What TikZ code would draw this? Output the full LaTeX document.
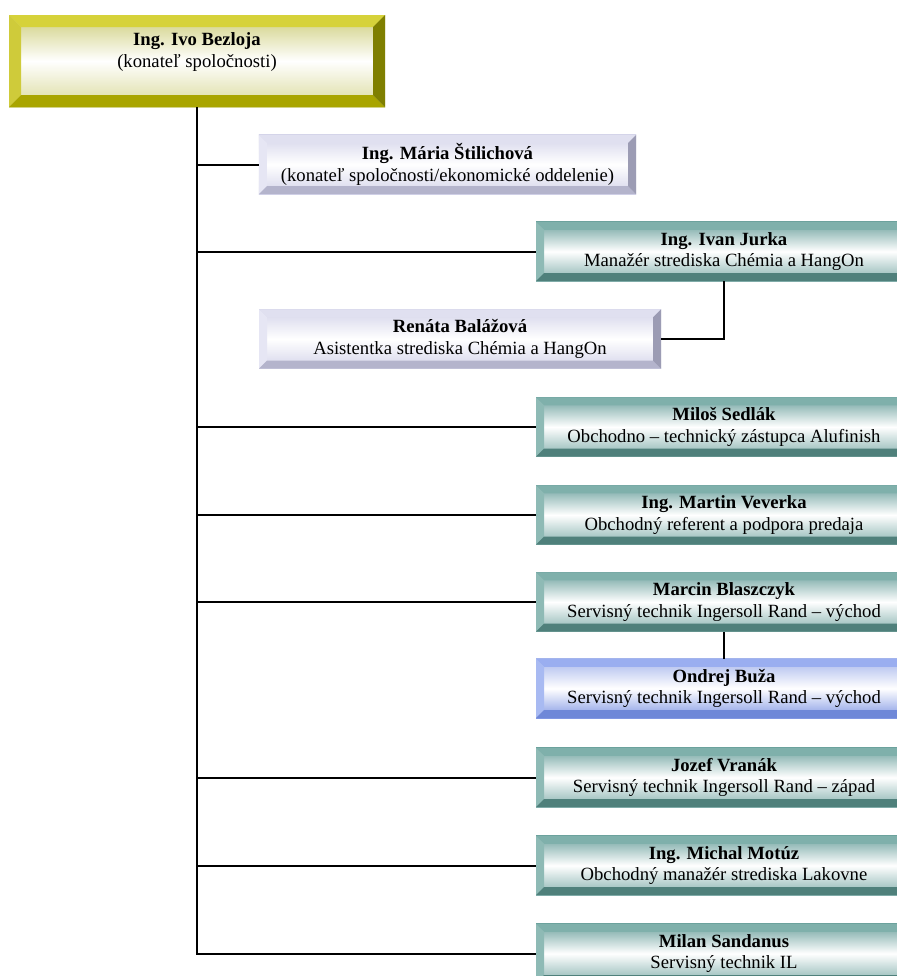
\documentclass[tikz,border=0pt]{standalone}
\usepackage{fontspec}
\setmainfont{Liberation Serif}
\usetikzlibrary{calc}

\definecolor{chieftop}{HTML}{D6D23A}
\definecolor{chiefleft}{HTML}{CFCB3A}
\definecolor{chiefbottom}{HTML}{A9A500}
\definecolor{chiefright}{HTML}{7F7F00}
\definecolor{chiefface}{HTML}{C2C25A}
\definecolor{stafftop}{HTML}{E0E0F0}
\definecolor{staffleft}{HTML}{E6E6F4}
\definecolor{staffbottom}{HTML}{B4B4CC}
\definecolor{staffright}{HTML}{9C9CB4}
\definecolor{staffface}{HTML}{D4D4EA}
\definecolor{techtop}{HTML}{7FB0AB}
\definecolor{techleft}{HTML}{8EBAB5}
\definecolor{techbottom}{HTML}{4F807B}
\definecolor{techright}{HTML}{466F6B}
\definecolor{techface}{HTML}{5E9894}
\definecolor{helptop}{HTML}{9AAEF0}
\definecolor{helpleft}{HTML}{A8BAF2}
\definecolor{helpbottom}{HTML}{6F88D8}
\definecolor{helpright}{HTML}{5C74C4}
\definecolor{helpface}{HTML}{8298E4}

\tikzset{
	bevel/.style n args={5}{
		path picture={
			\fill[#2] (path picture bounding box.north west) -- (path picture bounding box.north east)
				-- ([shift={(-#1,-#1)}]path picture bounding box.north east) -- ([shift={(#1,-#1)}]path picture bounding box.north west) -- cycle;
			\fill[#3] (path picture bounding box.north west) -- ([shift={(#1,-#1)}]path picture bounding box.north west)
				-- ([shift={(#1,#1)}]path picture bounding box.south west) -- (path picture bounding box.south west) -- cycle;
			\fill[#4] (path picture bounding box.south west) -- ([shift={(#1,#1)}]path picture bounding box.south west)
				-- ([shift={(-#1,#1)}]path picture bounding box.south east) -- (path picture bounding box.south east) -- cycle;
			\fill[#5] (path picture bounding box.north east) -- ([shift={(-#1,-#1)}]path picture bounding box.north east)
				-- ([shift={(-#1,#1)}]path picture bounding box.south east) -- (path picture bounding box.south east) -- cycle;
		}},
	orgbox/.style={rectangle, inner sep=0pt, align=center,
		font=\fontsize{14}{16.3}\selectfont, shading angle=-25},
	chief/.style={orgbox, minimum width=282pt, minimum height=69pt,
		top color=chiefface!80, bottom color=chiefface!60, middle color=white,
		bevel={9pt}{chieftop}{chiefleft}{chiefbottom}{chiefright}},
	staff/.style={orgbox, minimum height=44.5pt,
		top color=staffface, bottom color=staffface, middle color=white,
		bevel={6pt}{stafftop}{staffleft}{staffbottom}{staffright}},
	tech/.style={orgbox, minimum width=282pt, minimum height=44.5pt,
		top color=techface!90, bottom color=techface!75, middle color=white,
		bevel={6pt}{techtop}{techleft}{techbottom}{techright}},
	help/.style={orgbox, minimum width=282pt, minimum height=44.5pt,
		top color=helpface!70, bottom color=helpface, middle color=white,
		bevel={6pt}{helptop}{helpleft}{helpbottom}{helpright}},
	link/.style={line width=1.5pt, color=black},
}

\begin{document}
\begin{tikzpicture}[x=0.75pt, y=-0.75pt]
		%%%%% START %%%%%
		
		\clip (0, 0) rectangle (897, 976);
		\fill[white] (0, 0) rectangle (897, 976);
		
		\node[chief] (bezloja) at (197, 61) {\textbf{Ing. Ivo Bezloja}\\(konateľ spoločnosti)\\\phantom{x}};
		
		\node[staff, minimum width=283pt] (stilichova) at (447.5, 164.5) {\textbf{Ing. Mária Štilichová}\\(konateľ spoločnosti/ekonomické oddelenie)};
		\node[tech] (jurka) at (724, 251.5) {\textbf{Ing. Ivan Jurka}\\Manažér strediska Chémia a HangOn};
		\node[staff, minimum width=301.5pt] (balazova) at (460, 339) {\textbf{Renáta Balážová}\\Asistentka strediska Chémia a HangOn};
		
		\node[tech] (sedlak) at (724, 427) {\textbf{Miloš Sedlák}\\Obchodno – technický zástupca Alufinish};
		\node[tech] (veverka) at (724, 515) {\textbf{Ing. Martin Veverka}\\Obchodný referent a podpora predaja};
		\node[tech] (blaszczyk) at (724, 602) {\textbf{Marcin Blaszczyk}\\Servisný technik Ingersoll Rand – východ};
		\node[help] (buza) at (724, 688.5) {\textbf{Ondrej Buža}\\Servisný technik Ingersoll Rand – východ};
		\node[tech] (vranak) at (724, 777.5) {\textbf{Jozef Vranák}\\Servisný technik Ingersoll Rand – západ};
		\node[tech] (motuz) at (724, 865.5) {\textbf{Ing. Michal Motúz}\\Obchodný manažér strediska Lakovne};
		\node[tech] (sandanus) at (724, 953.5) {\textbf{Milan Sandanus}\\Servisný technik IL};
		
		% trunk and branches
		\draw[link] (bezloja.south) -- (bezloja.south |- sandanus.west) -- (sandanus.west);
		\draw[link] (bezloja.south |- stilichova.west) -- (stilichova.west);
		\draw[link] (bezloja.south |- jurka.west) -- (jurka.west);
		\draw[link] (bezloja.south |- sedlak.west) -- (sedlak.west);
		\draw[link] (bezloja.south |- veverka.west) -- (veverka.west);
		\draw[link] (bezloja.south |- blaszczyk.west) -- (blaszczyk.west);
		\draw[link] (bezloja.south |- vranak.west) -- (vranak.west);
		\draw[link] (bezloja.south |- motuz.west) -- (motuz.west);
		
		\draw[link] (jurka.south) |- (balazova.east);
		\draw[link] (blaszczyk.south) -- (buza.north);
		
		%%%%% END %%%%%
\end{tikzpicture}
\end{document}
